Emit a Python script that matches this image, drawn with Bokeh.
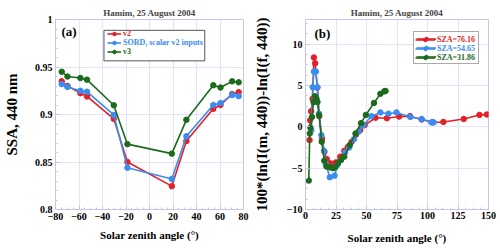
from bokeh.plotting import figure
from bokeh.layouts import row
from bokeh.models import (Legend, LegendItem, Label, Range1d,
                          SingleIntervalTicker, NumeralTickFormatter)
from bokeh.embed import file_html
from bokeh.resources import INLINE

# ---------------- data ----------------
title_text = "Hamim, 25 August 2004"
xlabel_text = "Solar zenith angle (\u00b0)"

# panel (a)
sza_a = [-74.7, -69.8, -58.8, -53.2, -30.4, -18.8, 19.0, 31.4, 54.3, 60.4, 70.3, 75.9]
ssa_v2 = [0.935, 0.930, 0.9225, 0.919, 0.8955, 0.850, 0.8246, 0.872, 0.906, 0.910, 0.9214, 0.9235]
ssa_sord = [0.932, 0.929, 0.925, 0.924, 0.8996, 0.8439, 0.8322, 0.8771, 0.910, 0.912, 0.9204, 0.9193]
ssa_v3 = [0.945, 0.940, 0.9384, 0.9367, 0.9097, 0.8688, 0.8588, 0.8944, 0.9308, 0.9284, 0.9349, 0.9339]
names_a = ["v2", "SORD, scalar v2 inputs", "v3"]
ylabel_a = "SSA, 440 nm"

# panel (b)
x_76 = [3.3, 3.8, 4.6, 5.8, 6.9, 7.9, 9.6, 11.3, 13.5, 15.5, 17.4, 20.0, 22.5, 24.8, 28.5,
        31.8, 34.6, 37.8, 41.3, 44.8, 48.4, 57.4, 66.7, 76.8, 85.7, 95.2, 104.3, 113.0,
        129.7, 142.6, 148.7]
y_76 = [-1.6, 0.8, 1.9, 3.4, 8.4, 7.7, 4.75, 1.3, -1.4, -3.0, -3.9, -4.4, -4.5, -4.3, -3.6,
        -2.9, -2.45, -1.8, -0.95, -0.4, 0.2, 1.1, 1.05, 1.25, 1.3, 0.9, 0.55, 0.6,
        0.95, 1.45, 1.5]
x_54 = [4.8, 5.9, 6.9, 8.5, 9.8, 11.1, 13.0, 15.1, 16.7, 19.9, 23.8, 26.2, 29.2, 32.4, 35.8,
        39.7, 43.5, 47.5, 54.0, 61.4, 68.0, 74.6, 86.0, 95.2, 103.2, 105.0]
y_54 = [-0.4, 4.8, 6.7, 6.7, 4.8, 1.6, -1.0, -2.9, -4.5, -6.1, -5.9, -4.6, -4.0, -3.1, -2.5,
        -1.5, -0.6, 0.2, 1.3, 1.75, 1.6, 1.75, 1.2, 0.95, 0.55, 0.55]
x_31 = [2.7, 3.5, 4.0, 5.3, 6.6, 7.7, 9.0, 9.8, 11.1, 13.3, 15.4, 17.2, 19.9, 22.5, 24.4,
        26.5, 29.0, 31.8, 36.3, 41.0, 45.5, 49.5, 56.1, 61.4, 64.6, 65.6]
y_31 = [-6.5, -0.8, -0.1, 1.2, 3.0, 3.7, 3.4, 3.0, 1.4, -1.8, -4.1, -4.8, -4.9, -5.0, -4.9,
        -4.4, -4.0, -3.6, -2.2, -0.8, 0.45, 1.45, 2.9, 4.0, 4.3, 4.35]
names_b = ["SZA=76.16", "SZA=54.65", "SZA=31.86"]
ylabel_b = "100*(ln(I(m, 440))-ln(I(f, 440))"

# ---------------- style ----------------
RED = "#e41f26"
BLUE = "#3a8df0"
GREEN = "#1c6a1c"
COLORS = [RED, BLUE, GREEN]
FONT = "Liberation Serif"
FRAME = "#c4c4ee"
GRID = "#e2e2fb"
W, H, TOP = 250, 248, 19


def make_fig(left, right, bottom, xr, yr, xint, yint, xminor, yminor,
             xl_std, xt_std, yl_std, ylabel, yfmt=None):
    p = figure(width=W, height=H, output_backend="svg", toolbar_location=None,
               x_range=Range1d(*xr), y_range=Range1d(*yr),
               min_border_left=left, min_border_right=right, min_border_top=TOP,
               min_border_bottom=bottom, background_fill_color="white",
               border_fill_color="white")
    p.title.text = title_text
    p.title.text_font = FONT
    p.title.text_font_size = "9px"
    p.title.text_font_style = "bold"
    p.title.align = "center"
    p.title.standoff = 4
    p.outline_line_color = FRAME
    p.outline_line_width = 1
    xt = SingleIntervalTicker(interval=xint, num_minor_ticks=xminor)
    yt = SingleIntervalTicker(interval=yint, num_minor_ticks=yminor)
    p.xaxis.ticker = xt
    p.yaxis.ticker = yt
    p.xgrid.ticker = xt
    p.ygrid.ticker = yt
    p.grid.grid_line_color = GRID
    p.grid.grid_line_width = 1
    for ax in (p.xaxis[0], p.yaxis[0]):
        ax.axis_line_color = FRAME
        ax.major_tick_line_color = FRAME
        ax.minor_tick_line_color = FRAME
        ax.major_tick_in = 4
        ax.major_tick_out = 0
        ax.minor_tick_in = 2
        ax.minor_tick_out = 0
        ax.major_label_text_font = FONT
        ax.major_label_text_font_style = "bold"
        ax.major_label_text_font_size = "10px"
        ax.major_label_text_color = "black"
        ax.axis_label_text_font = FONT
        ax.axis_label_text_font_style = "bold"
        ax.axis_label_text_color = "black"
    p.xaxis.major_label_standoff = xt_std
    p.yaxis.major_label_standoff = 3
    p.xaxis.axis_label = xlabel_text
    p.xaxis.axis_label_text_font_size = "11px"
    p.xaxis.axis_label_standoff = xl_std
    p.yaxis.axis_label = ylabel
    p.yaxis.axis_label_text_font_size = "15px"
    p.yaxis.axis_label_standoff = yl_std
    if yfmt is not None:
        p.yaxis.formatter = yfmt
    return p


def add_series(p, x, y, color):
    ln = p.line(x, y, line_color=color, line_width=1.6)
    sc = p.scatter(x, y, marker="circle", size=5.5, fill_color=color, line_color=color)
    return [ln, sc]


def legend_kw(gw, pad, row_h):
    return dict(margin=0, padding=pad, spacing=0, glyph_width=gw, glyph_height=row_h,
                label_height=row_h, label_standoff=2,
                label_text_font=FONT, label_text_font_style="bold",
                label_text_font_size="8px")


def add_row_legends(p, renderers, names, x, y, gw, pad=2, row_h=9):
    n = len(names)
    for j, (nm, r, c) in enumerate(zip(names, renderers, COLORS)):
        p.add_layout(Legend(items=[LegendItem(label=nm, renderers=r)],
                            location=(x, y + (n - 1 - j) * row_h),
                            label_text_color=c, border_line_alpha=0,
                            background_fill_alpha=0, **legend_kw(gw, pad, row_h)))


fmt_a = NumeralTickFormatter(format="0.[00]")

# panel (a) geometry (pixels)
A_LEFT, A_RIGHT, A_BOTTOM = 49, 7, 36
pa = make_fig(A_LEFT, A_RIGHT, A_BOTTOM, (-80, 80), (0.8, 1.0), 20, 0.05, 4, 5,
              6, 3, 12, ylabel_a, fmt_a)

# legend box of (a): given in frame pixels, converted to the plot's own coordinates
box_px = dict(left=50, right=154, bottom=151, top=182)
fw = W - A_LEFT - A_RIGHT
fh = H - TOP - A_BOTTOM
xr, yr = pa.x_range, pa.y_range
pa.quad(left=[xr.start + box_px["left"] / fw * (xr.end - xr.start)],
        right=[xr.start + box_px["right"] / fw * (xr.end - xr.start)],
        bottom=[yr.start + box_px["bottom"] / fh * (yr.end - yr.start)],
        top=[yr.start + box_px["top"] / fh * (yr.end - yr.start)],
        fill_color="white", fill_alpha=1, line_color="#555555", line_width=1)

ra = [add_series(pa, sza_a, ssa_v2, RED),
      add_series(pa, sza_a, ssa_sord, BLUE),
      add_series(pa, sza_a, ssa_v3, GREEN)]
add_row_legends(pa, ra, names_a, 50, 151, 14)

pb = make_fig(49, 12, 39, (0, 150), (-10, 13), 25, 5, 4, 4,
              10, 2, 14, ylabel_b)
rb = [add_series(pb, x_76, y_76, RED),
      add_series(pb, x_54, y_54, BLUE),
      add_series(pb, x_31, y_31, GREEN)]

# (b): frame legend with hidden labels, then coloured rows on top
pb.add_layout(Legend(items=[LegendItem(label=n, renderers=r) for n, r in zip(names_b, rb)],
                     location=(108, 145), label_text_alpha=0,
                     border_line_color="#555555", border_line_width=1,
                     background_fill_color="white", background_fill_alpha=1,
                     **legend_kw(20, 2, 9)))
add_row_legends(pb, rb, names_b, 108, 145, 20)

# panel tags
for p, t, pos in ((pa, "(a)", (6, 178.5)), (pb, "(b)", (9, 175.7))):
    p.add_layout(Label(x=pos[0], y=pos[1], x_units="screen", y_units="screen", text=t,
                       text_font=FONT, text_font_style="bold", text_font_size="13px",
                       text_color="black", text_baseline="middle", text_align="left"))

layout = row(pa, pb, spacing=0)
open("out.html", "w").write(file_html(layout, INLINE))
